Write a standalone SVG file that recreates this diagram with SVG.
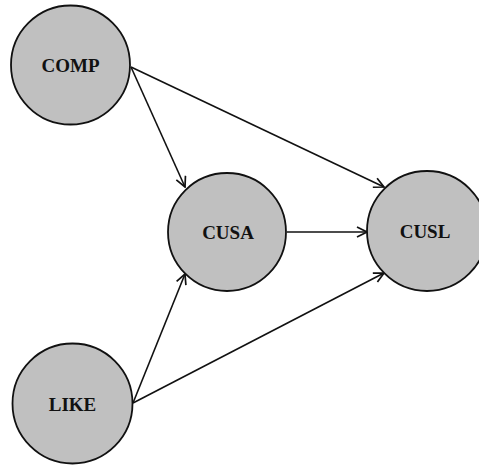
<svg xmlns="http://www.w3.org/2000/svg" width="479" height="466" viewBox="0 0 479 466">
  <style>
    .node circle { fill: #c0c0c0; stroke: #111; stroke-width: 1.8; }
    .node text { font-family: "Liberation Serif", "Times New Roman", serif; font-weight: bold; font-size: 19px; fill: #111; text-anchor: middle; }
    .edges line { stroke: #111; stroke-width: 1.6; fill: none; marker-end: url(#arrow); }
  </style>
  <defs>
    <marker id="arrow" viewBox="0 0 12 12" refX="11" refY="6" markerWidth="12" markerHeight="12" markerUnits="userSpaceOnUse" orient="auto">
      <path d="M1,1 L11,6 L1,11" fill="none" stroke="#111" stroke-width="1.7"/>
    </marker>
  </defs>
  <rect width="479" height="466" fill="#fff"/>
  <g class="edges">
    <line x1="131" y1="67" x2="185" y2="187"/>
    <line x1="131" y1="67" x2="384" y2="187"/>
    <line x1="287" y1="232" x2="367" y2="232"/>
    <line x1="133" y1="403" x2="185" y2="274"/>
    <line x1="133" y1="403" x2="384" y2="273"/>
  </g>
  <g id="COMP" class="node">
    <circle cx="70.5" cy="65" r="59.5"/>
    <text x="70.5" y="72">COMP</text>
  </g>
  <g id="CUSA" class="node">
    <circle cx="227" cy="232" r="59"/>
    <text x="228" y="239">CUSA</text>
  </g>
  <g id="CUSL" class="node">
    <circle cx="427" cy="231" r="60"/>
    <text x="425" y="238">CUSL</text>
  </g>
  <g id="LIKE" class="node">
    <circle cx="72.5" cy="403.5" r="60"/>
    <text x="72.5" y="411">LIKE</text>
  </g>
</svg>
